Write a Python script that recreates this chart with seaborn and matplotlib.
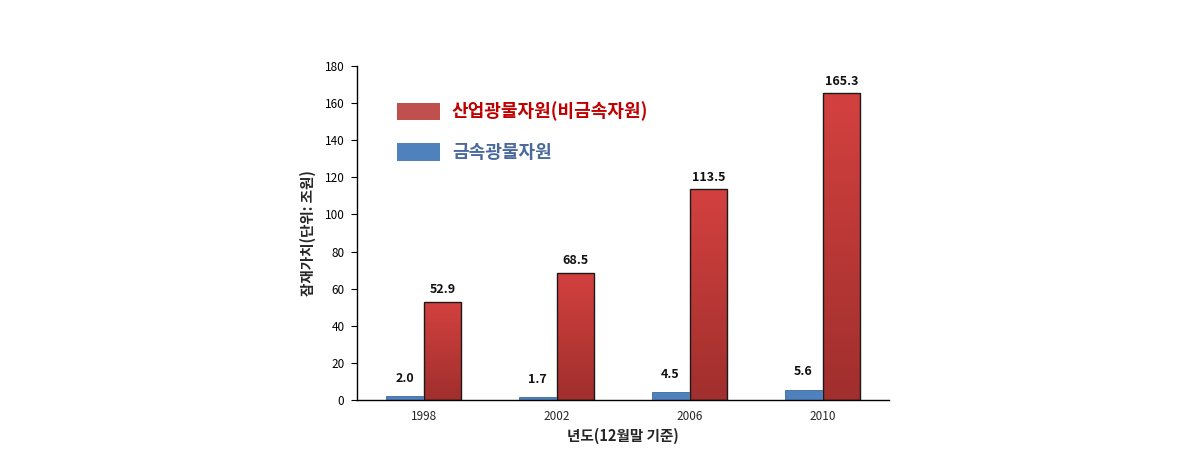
import numpy as np
import pandas as pd
import matplotlib
matplotlib.use("Agg")
import matplotlib.pyplot as plt
from matplotlib.patches import Patch, Rectangle
from matplotlib.colors import LinearSegmentedColormap
import seaborn as sns

years = ["1998", "2002", "2006", "2010"]
metal = [2.0, 1.7, 4.5, 5.6]
industrial = [52.9, 68.5, 113.5, 165.3]
series_names = ["금속광물자원", "산업광물자원(비금속자원)"]
y_ticks = [0, 20, 40, 60, 80, 100, 120, 140, 160, 180]

sns.set_theme(style="white")
plt.rcParams["font.family"] = ["Noto Sans CJK KR", "DejaVu Sans"]

df = pd.DataFrame({
    "year": years * 2,
    "value": metal + industrial,
    "series": [series_names[0]] * 4 + [series_names[1]] * 4,
})

fig = plt.figure(figsize=(11.9, 4.65), dpi=100)
ax = fig.add_axes([357 / 1190, 65 / 465, 532 / 1190, 334 / 465])

blue = "#4f81bd"
red = "#c9403d"
sns.barplot(data=df, x="year", y="value", hue="series", order=years,
            hue_order=series_names, palette=[blue, red], width=0.57,
            gap=0, legend=False, ax=ax, saturation=1)

grad = np.linspace(0, 1, 256).reshape(-1, 1)
cmap = LinearSegmentedColormap.from_list("rg", ["#a02f2d", "#d3413f"])
n = len(years)
bars = list(ax.patches[:2 * n])
for i, p in enumerate(bars):
    if i < n:
        p.set_edgecolor("#3e6a9c")
        p.set_linewidth(0.6)
    else:
        x0, y0 = p.get_x(), p.get_y()
        w, h = p.get_width(), p.get_height()
        im = ax.imshow(grad, cmap=cmap, aspect="auto", origin="lower",
                       extent=[x0, x0 + w, y0, y0 + h], zorder=p.get_zorder() + 0.1)
        im.set_clip_path(p)
        ax.add_patch(Rectangle((x0, y0), w, h, fill=False, edgecolor="#1a1a1a",
                               linewidth=1.0, zorder=p.get_zorder() + 0.2))
ax.set_xlim(-0.5, 3.5)
ax.set_ylim(0, 180)
ax.set_yticks(y_ticks)

for i, p in enumerate(bars):
    val = metal[i] if i < n else industrial[i - n]
    off = 8 if i < n else 4
    ax.annotate(f"{val:.1f}", (p.get_x() + p.get_width() / 2, p.get_height()),
                xytext=(0, off), textcoords="offset points", ha="center",
                va="bottom", fontsize=9, fontweight="bold", color="#111111")

for s in ["top", "right"]:
    ax.spines[s].set_visible(False)
for s in ["left", "bottom"]:
    ax.spines[s].set_color("black")
    ax.spines[s].set_linewidth(1.0)
ax.tick_params(axis="y", which="major", direction="out", length=4, width=0.8,
               labelsize=8.5, colors="black", pad=5, left=True)
ax.tick_params(axis="x", length=0, labelsize=8.5, pad=7)
ax.set_xlabel("년도(12월말 기준)", fontsize=10.5, fontweight="bold", labelpad=4)
ax.set_ylabel("잠재가치(단위: 조원)", fontsize=10.5, fontweight="bold", labelpad=6)
ax.grid(False)

handles = [Patch(facecolor="#c0504d", edgecolor="none"),
           Patch(facecolor=blue, edgecolor="none")]
leg = ax.legend(handles, [series_names[1], series_names[0]], loc="upper left",
                bbox_to_anchor=(0.075, 0.893), frameon=False, borderpad=0,
                borderaxespad=0,
                prop={"size": 13, "weight": "bold"}, handlelength=2.4,
                handleheight=1.1, labelspacing=1.2, handletextpad=0.65)
leg.get_texts()[0].set_color("#c00000")
leg.get_texts()[1].set_color("#4a6a9c")

fig.savefig("out.png", dpi=100)
